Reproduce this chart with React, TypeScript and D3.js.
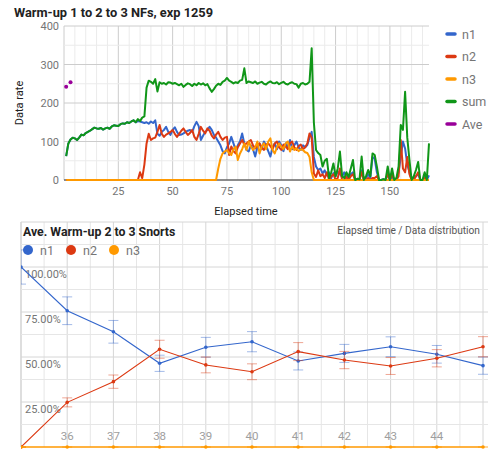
import React, { useRef, useEffect } from "react";
import * as d3 from "d3";

// top chart: data rate per elapsed time step (x = 1..168)
const sumRate = [
    62, 95, 105, 110, 108, 104, 110, 118, 116, 122, 125, 128, 132, 136, 134, 133, 135, 131, 134, 136,
    133, 139, 142, 141, 140, 145, 147, 146, 150, 148, 152, 155, 150, 158, 153, 162, 165, 240, 258, 255,
    250, 262, 230, 254, 250, 252, 248, 254, 253, 250, 252, 249, 246, 250, 242, 247, 251, 249, 244, 250,
    246, 252, 248, 251, 246, 249, 238, 229, 236, 245, 250, 247, 255, 258, 265, 258, 255, 251, 254, 252,
    258, 260, 290, 252, 256, 254, 252, 256, 250, 253, 255, 250, 248, 253, 256, 252, 251, 254, 249, 252,
    255, 250, 248, 252, 254, 250, 249, 240, 250, 252, 248, 250, 255, 342, 150, 78, 70, 65, 35, 50,
    55, 5, 20, 43, 10, 30, 74, 10, 5, 20, 8, 30, 52, 0, 3, 2, 61, 0, 10, 26,
    10, 69, 65, 35, 0, 0, 2, 0, 35, 0, 30, 0, 5, 35, 143, 130, 229, 110, 52, 0,
    10, 26, 47, 0, 0, 20, 0, 95,
];
const n1Rate = [
    62, 95, 105, 110, 108, 104, 110, 118, 116, 122, 125, 128, 132, 136, 134, 133, 135, 131, 134, 136,
    133, 139, 142, 141, 140, 145, 147, 146, 150, 148, 152, 155, 150, 153, 152, 150, 148, 150, 146, 152,
    148, 155, 120, 115, 125, 130, 138, 125, 117, 130, 137, 125, 117, 118, 121, 125, 128, 130, 125, 140,
    151, 140, 104, 115, 125, 130, 138, 130, 117, 110, 100, 90, 75, 69, 85, 95, 112, 95, 78, 90,
    100, 121, 95, 78, 74, 90, 80, 61, 85, 95, 80, 100, 90, 75, 61, 85, 95, 80, 100, 90,
    75, 95, 85, 104, 80, 90, 100, 85, 78, 90, 85, 91, 110, 125, 60, 35, 26, 30, 17, 25,
    12, 20, 5, 18, 10, 22, 15, 8, 20, 10, 5, 15, 20, 0, 3, 2, 25, 0, 5, 15,
    5, 60, 55, 20, 0, 0, 2, 0, 15, 0, 10, 0, 3, 20, 60, 100, 82, 40, 20, 0,
    5, 10, 15, 0, 0, 8, 0, 12,
];
const n2Rate = [
    0, 0, 0, 0, 0, 0, 0, 0, 0, 0, 0, 0, 0, 0, 0, 0, 0, 0, 0, 0,
    0, 0, 0, 0, 0, 0, 0, 0, 0, 0, 0, 0, 0, 0, 20, 5, 40, 95, 120, 104,
    108, 110, 125, 143, 120, 112, 118, 121, 125, 130, 120, 112, 120, 128, 134, 125, 117, 122, 130, 112,
    104, 120, 138, 128, 121, 134, 128, 115, 108, 118, 125, 112, 104, 110, 112, 65, 87, 75, 69, 85,
    95, 104, 91, 95, 100, 104, 90, 82, 88, 95, 85, 78, 92, 95, 88, 80, 95, 100, 85, 78,
    92, 88, 80, 95, 100, 85, 78, 88, 92, 80, 85, 95, 121, 110, 17, 8, 25, 10, 15, 5,
    20, 0, 10, 15, 0, 5, 30, 0, 0, 8, 0, 10, 15, 0, 0, 0, 20, 0, 0, 5,
    0, 5, 5, 10, 0, 0, 0, 0, 15, 0, 15, 0, 0, 10, 104, 30, 20, 60, 15, 0,
    0, 10, 20, 0, 0, 5, 0, 0,
];
const n3Rate = [
    0, 0, 0, 0, 0, 0, 0, 0, 0, 0, 0, 0, 0, 0, 0, 0, 0, 0, 0, 0,
    0, 0, 0, 0, 0, 0, 0, 0, 0, 0, 0, 0, 0, 0, 0, 0, 0, 0, 0, 0,
    0, 0, 0, 0, 0, 0, 0, 0, 0, 0, 0, 0, 0, 0, 0, 0, 0, 0, 0, 0,
    0, 0, 0, 0, 0, 0, 0, 0, 0, 0, 30, 55, 69, 74, 78, 70, 65, 80, 87, 52,
    69, 80, 95, 78, 100, 87, 78, 85, 100, 69, 87, 95, 80, 100, 108, 78, 69, 85, 95, 87,
    80, 95, 100, 74, 87, 78, 82, 75, 80, 78, 72, 70, 60, 20, 0, 0, 0, 0, 0, 0,
    0, 0, 0, 0, 0, 0, 0, 0, 0, 0, 0, 0, 0, 0, 0, 0, 0, 0, 0, 0,
    0, 0, 0, 0, 0, 0, 0, 0, 0, 0, 0, 0, 0, 0, 0, 0, 0, 0, 0, 0,
    0, 0, 0, 0, 0, 0, 0, 0,
];
const avePoints = [
    { x: 1, y: 242 },
    { x: 3, y: 254 },
];

const topSeries = [
    { name: "n1", color: "#3366cc", values: n1Rate },
    { name: "n2", color: "#dc3912", values: n2Rate },
    { name: "n3", color: "#ff9900", values: n3Rate },
    { name: "sum", color: "#109618", values: sumRate },
];
const topLegend = [
    { name: "n1", color: "#3366cc" },
    { name: "n2", color: "#dc3912" },
    { name: "n3", color: "#ff9900" },
    { name: "sum", color: "#109618" },
    { name: "Ave", color: "#990099" },
];
const topYTicks = [0, 100, 200, 300, 400];
const topXTicks = [25, 50, 75, 100, 125, 150];

// bottom chart: average share per elapsed time, with error bars
const aveCats = [35, 36, 37, 38, 39, 40, 41, 42, 43, 44, 45];
const aveN1 = [100, 75.7, 64, 46.5, 55.4, 58.5, 47.8, 52, 55.7, 51.5, 45.2];
const errN1 = [9.5, 7.7, 6.3, 4.5, 5.5, 5.6, 5, 5, 5.5, 4.9, 4.8];
const aveN2 = [0, 24.8, 36.3, 54.3, 45.6, 41.8, 53, 48.3, 45, 49.3, 55.7];
const errN2 = [0, 2.5, 3.7, 5, 4.4, 4.4, 5, 4.8, 4.7, 4.8, 5.6];
const aveN3 = [0, 0, 0, 0, 0, 0, 0, 0, 0, 0, 0];
const errN3 = [0, 0, 0, 0, 0, 0, 0, 0, 0, 0, 0];
const aveXLabels = [36, 37, 38, 39, 40, 41, 42, 43, 44];
const aveYLabels = [25, 50, 75, 100];

const bottomSeries = [
    { name: "n1", color: "#3366cc", values: aveN1, errs: errN1 },
    { name: "n2", color: "#dc3912", values: aveN2, errs: errN2 },
    { name: "n3", color: "#ff9900", values: aveN3, errs: errN3 },
];

const FONT = "Roboto, 'Noto Sans', Arial, sans-serif";

const App = () => {
    const svgRef = useRef(null);

    useEffect(() => {
        const width = 488;
        const height = 452;
        const svg = d3.select(svgRef.current).attr("width", width).attr("height", height);
        svg.selectAll("*").remove();

        // ---------------- top chart ----------------
        const top = svg.append("g");
        const x = d3.scaleLinear().domain([0, 168]).range([64, 429]);
        const y = d3.scaleLinear().domain([0, 400]).range([180, 26]);

        top.append("text")
            .attr("x", 14)
            .attr("y", 17)
            .attr("font-family", FONT)
            .attr("font-weight", "bold")
            .attr("font-size", 12.8)
            .attr("fill", "#222")
            .text("Warm-up 1 to 2 to 3 NFs, exp 1259");

        // gridlines
        top.selectAll(".vgrid")
            .data(d3.range(0, 169, 5))
            .enter()
            .append("line")
            .attr("x1", (d) => x(d))
            .attr("x2", (d) => x(d))
            .attr("y1", y(400))
            .attr("y2", y(0))
            .attr("stroke", (d) => (d % 25 === 0 ? "#cccccc" : "#ebebeb"))
            .attr("stroke-width", 1);
        top.selectAll(".hgrid")
            .data(d3.range(0, 401, 50))
            .enter()
            .append("line")
            .attr("x1", x(0))
            .attr("x2", x(168))
            .attr("y1", (d) => y(d))
            .attr("y2", (d) => y(d))
            .attr("stroke", (d) => (d % 100 === 0 ? "#cccccc" : "#ebebeb"))
            .attr("stroke-width", 1);
        top.append("line")
            .attr("x1", x(0))
            .attr("x2", x(168))
            .attr("y1", y(0))
            .attr("y2", y(0))
            .attr("stroke", "#333")
            .attr("stroke-width", 1);

        top.selectAll(".ytick")
            .data(topYTicks)
            .enter()
            .append("text")
            .attr("x", 59)
            .attr("y", (d) => y(d) + 4)
            .attr("text-anchor", "end")
            .attr("font-family", FONT)
            .attr("font-size", 11)
            .attr("fill", "#757575")
            .text((d) => d);
        top.selectAll(".xtick")
            .data(topXTicks)
            .enter()
            .append("text")
            .attr("x", (d) => x(d))
            .attr("y", 195)
            .attr("text-anchor", "middle")
            .attr("font-family", FONT)
            .attr("font-size", 11)
            .attr("fill", "#757575")
            .text((d) => d);

        top.append("text")
            .attr("x", 246)
            .attr("y", 215)
            .attr("text-anchor", "middle")
            .attr("font-family", FONT)
            .attr("font-size", 11)
            .attr("fill", "#222")
            .text("Elapsed time");
        top.append("text")
            .attr("transform", `translate(23,${(y(0) + y(400)) / 2}) rotate(-90)`)
            .attr("text-anchor", "middle")
            .attr("font-family", FONT)
            .attr("font-size", 11)
            .attr("fill", "#222")
            .text("Data rate");

        const line = d3
            .line<number>()
            .x((d, i) => x(i + 1))
            .y((d) => y(d));
        topSeries.forEach((s) => {
            top.append("path")
                .attr("d", line(s.values))
                .attr("fill", "none")
                .attr("stroke", s.color)
                .attr("stroke-width", 2)
                .attr("stroke-linejoin", "round");
        });
        top.selectAll(".ave")
            .data(avePoints)
            .enter()
            .append("circle")
            .attr("cx", (d) => x(d.x))
            .attr("cy", (d) => y(d.y))
            .attr("r", 2)
            .attr("fill", "#990099");

        const legend = top
            .selectAll(".leg")
            .data(topLegend)
            .enter()
            .append("g")
            .attr("transform", (d, i) => `translate(446,${34 + i * 22.5})`);
        legend.append("line")
            .attr("x1", 1)
            .attr("x2", 9)
            .attr("y1", 0)
            .attr("y2", 0)
            .attr("stroke", (d) => d.color)
            .attr("stroke-width", 3.5)
            .attr("stroke-linecap", "round");
        legend.append("text")
            .attr("x", 16)
            .attr("y", 4.5)
            .attr("font-family", FONT)
            .attr("font-size", 12.5)
            .attr("fill", "#757575")
            .text((d) => d.name);

        // ---------------- bottom chart ----------------
        const bot = svg.append("g");
        const bx = d3.scaleLinear().domain([35, 45]).range([21, 483]);
        const by = d3.scaleLinear().domain([0, 100]).range([447, 267]);

        bot.append("clipPath")
            .attr("id", "botclip")
            .append("rect")
            .attr("x", 21)
            .attr("y", 215)
            .attr("width", width - 21)
            .attr("height", height - 215);

        bot.selectAll(".bvgrid")
            .data(d3.range(35, 45.01, 0.5))
            .enter()
            .append("line")
            .attr("x1", (d) => bx(d))
            .attr("x2", (d) => bx(d))
            .attr("y1", by(125))
            .attr("y2", by(0))
            .attr("stroke", (d) => (d === 35 ? "#bdbdbd" : d % 1 === 0 ? "#d6d6d6" : "#e6e6e6"))
            .attr("stroke-width", 1);
        bot.selectAll(".bhgrid")
            .data(d3.range(12.5, 125.01, 12.5))
            .enter()
            .append("line")
            .attr("x1", bx(35))
            .attr("x2", width)
            .attr("y1", (d) => by(d))
            .attr("y2", (d) => by(d))
            .attr("stroke", (d) => (d % 25 === 0 ? "#d6d6d6" : "#e6e6e6"))
            .attr("stroke-width", 1);

        bot.append("text")
            .attr("x", 23)
            .attr("y", 236)
            .attr("font-family", FONT)
            .attr("font-weight", "bold")
            .attr("font-size", 12.3)
            .attr("fill", "#222")
            .text("Ave. Warm-up 2 to 3 Snorts");
        bot.append("text")
            .attr("x", 480)
            .attr("y", 234)
            .attr("text-anchor", "end")
            .attr("font-family", FONT)
            .attr("font-size", 10.2)
            .attr("fill", "#555")
            .text("Elapsed time / Data distribution");

        const bleg = bot
            .selectAll(".bleg")
            .data(bottomSeries)
            .enter()
            .append("g")
            .attr("transform", (d, i) => `translate(${28 + i * 43},250)`);
        bleg.append("circle").attr("r", 5).attr("fill", (d) => d.color);
        bleg.append("text")
            .attr("x", 12)
            .attr("y", 4.5)
            .attr("font-family", FONT)
            .attr("font-size", 12.5)
            .attr("fill", "#757575")
            .text((d) => d.name);

        bot.selectAll(".bylab")
            .data(aveYLabels)
            .enter()
            .append("text")
            .attr("x", 25)
            .attr("y", (d) => by(d) + 11)
            .attr("font-family", FONT)
            .attr("font-size", 11)
            .attr("fill", "#757575")
            .text((d) => d3.format(".2f")(d) + "%");
        bot.selectAll(".bxlab")
            .data(aveXLabels)
            .enter()
            .append("text")
            .attr("x", (d) => bx(d))
            .attr("y", 440)
            .attr("text-anchor", "middle")
            .attr("font-family", FONT)
            .attr("font-size", 11.5)
            .attr("fill", "#9e9e9e")
            .text((d) => d);

        const data = bot.append("g").attr("clip-path", "url(#botclip)");
        const bline = d3
            .line<number>()
            .x((d, i) => bx(aveCats[i]))
            .y((d) => by(d));
        bottomSeries.forEach((s) => {
            const g = data.append("g");
            s.values.forEach((v, i) => {
                const cx = bx(aveCats[i]);
                const e = s.errs[i];
                g.append("line")
                    .attr("x1", cx)
                    .attr("x2", cx)
                    .attr("y1", by(v - e))
                    .attr("y2", by(v + e))
                    .attr("stroke", s.color)
                    .attr("stroke-opacity", 0.45)
                    .attr("stroke-width", 1);
                [v - e, v + e].forEach((w) => {
                    g.append("line")
                        .attr("x1", cx - 5)
                        .attr("x2", cx + 5)
                        .attr("y1", by(w))
                        .attr("y2", by(w))
                        .attr("stroke", s.color)
                        .attr("stroke-opacity", 0.45)
                        .attr("stroke-width", 1);
                });
            });
            g.append("path")
                .attr("d", bline(s.values))
                .attr("fill", "none")
                .attr("stroke", s.color)
                .attr("stroke-width", s.name === "n3" ? 1.6 : 1.1);
            g.selectAll("circle")
                .data(s.values)
                .enter()
                .append("circle")
                .attr("cx", (d, i) => bx(aveCats[i]))
                .attr("cy", (d) => by(d))
                .attr("r", 1.8)
                .attr("fill", s.color);
        });
    }, []);

    return <svg ref={svgRef} style={{ position: "absolute", left: 0, top: 0 }}></svg>;
};

export default App;
